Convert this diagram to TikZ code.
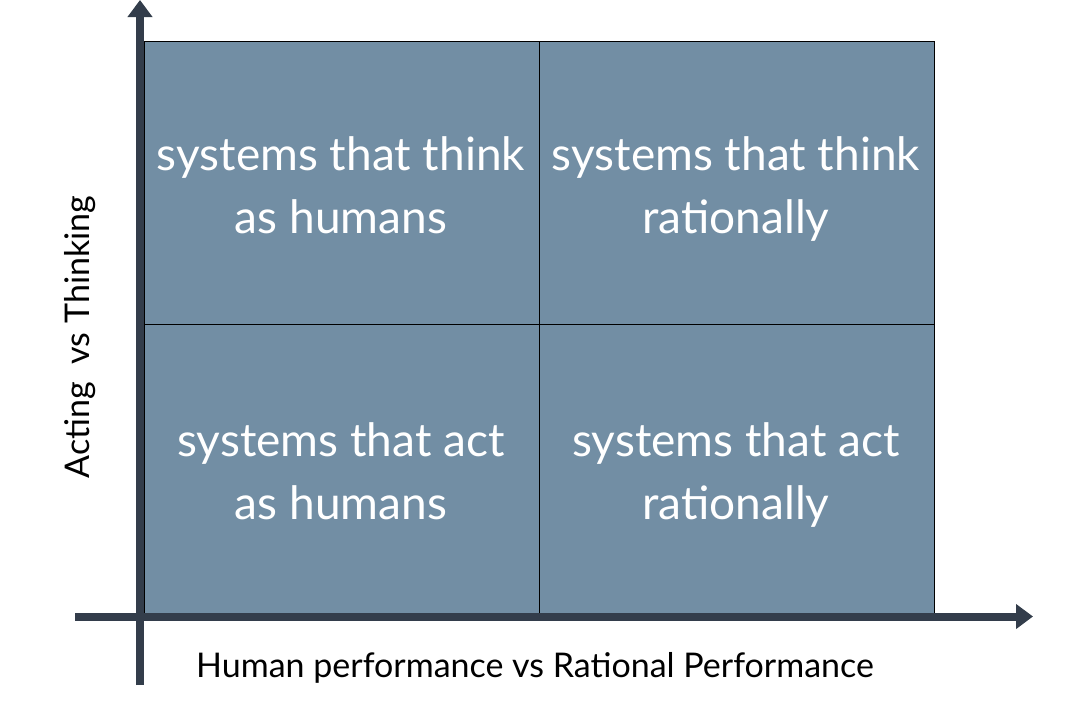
\documentclass[tikz,border=0pt]{standalone}
\usepackage{fontspec}
\setmainfont{Lato}
\usetikzlibrary{arrows.meta}
\definecolor{cellfill}{RGB}{114,142,164}
\definecolor{axiscol}{RGB}{51,61,75}
\tikzset{
  cell/.style={draw=black, line width=1.3pt, fill=cellfill, minimum width=395pt, inner sep=0pt, anchor=north west},
  celltext/.style={text=white, font=\fontsize{46}{63}\selectfont, align=center},
  axis/.style={draw=axiscol, line width=8pt, -{Triangle[length=17pt,width=24pt]}},
  axlabel/.style={text=black, font=\fontsize{34}{38}\selectfont}
}
\begin{document}
\begin{tikzpicture}[x=1pt,y=-1pt]
\useasboundingbox (0,0) rectangle (1075,712);
\node[cell, minimum height=283pt] (tl) at (144,41) {};
\node[cell, minimum height=283pt] (tr) at (539,41) {};
\node[cell, minimum height=289pt] (bl) at (144,324) {};
\node[cell, minimum height=289pt] (br) at (539,324) {};
\node[celltext] (ttl) at (341,189) {systems that think\\as humans\vphantom{y}};
\node[celltext] (ttr) at (736,189) {systems that think\\rationally};
\node[celltext] (tbl) at (341,475) {systems that act\\as humans\vphantom{y}};
\node[celltext] (tbr) at (736,475) {systems that act\\rationally};
\coordinate (ys) at (140,685);
\coordinate (ye) at (140,0);
\coordinate (xs) at (75,616.5);
\coordinate (xe) at (1033,616.5);
\draw[axis] (ys) -- (ye);
\draw[axis] (xs) -- (xe);
\node[axlabel] (xl) at (535,668) {Human performance vs Rational Performance};
\node[axlabel, rotate=90] (yl) at (80,337) {Acting\ \ vs Thinking};
\end{tikzpicture}
\end{document}
